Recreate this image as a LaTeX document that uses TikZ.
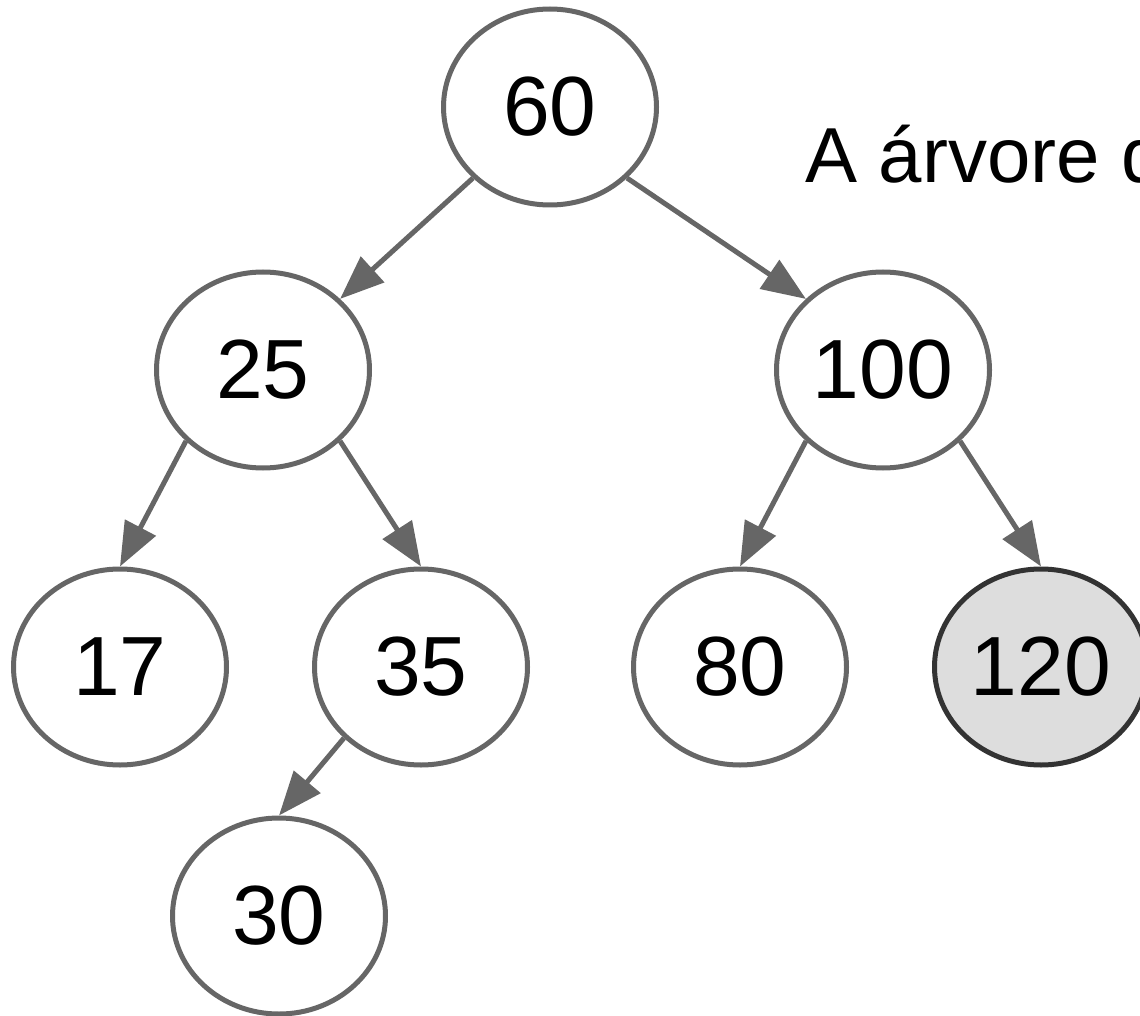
\documentclass[tikz,border=0pt]{standalone}
\usepackage{xcolor}
\usepackage{fontspec}
\setmainfont{Liberation Sans}
\usetikzlibrary{arrows.meta}
\usetikzlibrary{shapes}

\definecolor{linegray}{HTML}{666666}
\definecolor{markgray}{HTML}{DDDDDD}
\definecolor{markborder}{HTML}{333333}

\begin{document}
\begin{tikzpicture}[x=1pt,y=-1pt]
			\useasboundingbox (0,0) rectangle (1140,1016);
			\begin{scope}[every node/.style={ellipse,draw=linegray,line width=5pt,fill=white,minimum width=213pt,minimum height=196pt,inner sep=0pt,font=\fontsize{84}{84}\selectfont}]
		    \node (n60) at (550,107) {60};
		    \node (n25) at (263,370) {25};
		    \node (n100) at (883,370) {100};
		    \node (n17) at (120,667) {17};
		    \node (n35) at (421,667) {35};
		    \node (n80) at (740,667) {80};
		    \node[fill=markgray,draw=markborder] (n120) at (1041,667) {120};
		    \node (n30) at (279,916) {30};
			\end{scope}
			\begin{scope}[every edge/.style={draw=linegray,line width=5pt,-{Triangle[length=44pt,width=34pt]}}]
		    \path (n60.south west) edge (n25.north east);
		    \path (n60.south east) edge (n100.north west);
		    \path (n25.south west) edge (n17.north);
		    \path (n25.south east) edge (n35.north);
		    \path (n100.south west) edge (n80.north);
		    \path (n100.south east) edge (n120.north);
		    \path (n35.south west) edge (n30.north);
	    \end{scope}
	    \node[anchor=base west,inner sep=0pt,font=\fontsize{78}{78}\selectfont] (caption) at (805,183) {A árvore d};
    \end{tikzpicture}
\end{document}
